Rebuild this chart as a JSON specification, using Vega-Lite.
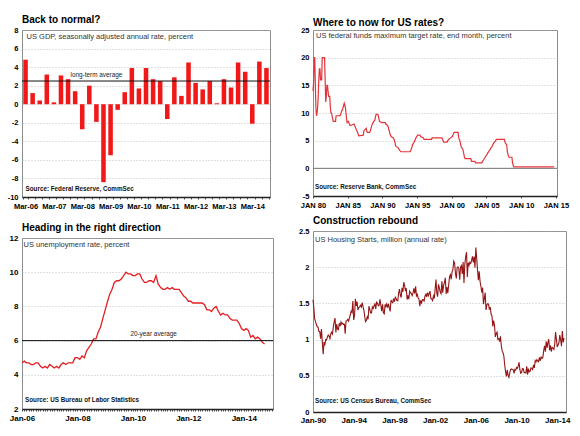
{
  "$schema": "https://vega.github.io/schema/vega-lite/v6.json",
  "background": "white",
  "padding": {"left": 6, "top": 14, "right": 4, "bottom": 4},
  "config": {
    "font": "Liberation Sans",
    "view": {"stroke": "#8c8c8c", "strokeWidth": 1},
    "title": {"anchor": "start", "frame": "group", "fontSize": 10, "fontWeight": "bold", "color": "#000000", "offset": 1},
    "axis": {"labelFont": "Liberation Sans", "labelFontWeight": "bold", "labelColor": "#000000", "labelFontSize": 7.5, "labelOverlap": false, "gridColor": "#b4b4b4", "gridDash": [1, 2], "gridWidth": 0.8, "domainColor": "#222222", "tickColor": "#555555"},
    "axisY": {"domain": false, "ticks": false, "labelPadding": 4, "grid": true},
    "axisX": {"grid": false, "domainWidth": 1.6, "labelPadding": 3, "tickSize": 2, "labelFlush": false}
  },
  "datasets": {
    "gdp": [
      {"q": "Mar-06", "v": 4.8}, {"q": "Jun-06", "v": 1.2}, {"q": "Sep-06", "v": 0.4}, {"q": "Dec-06", "v": 3.2},
      {"q": "Mar-07", "v": 0.2}, {"q": "Jun-07", "v": 3.1}, {"q": "Sep-07", "v": 2.7}, {"q": "Dec-07", "v": 1.4},
      {"q": "Mar-08", "v": -2.7}, {"q": "Jun-08", "v": 2.0}, {"q": "Sep-08", "v": -1.9}, {"q": "Dec-08", "v": -8.4},
      {"q": "Mar-09", "v": -5.5}, {"q": "Jun-09", "v": -0.6}, {"q": "Sep-09", "v": 1.3}, {"q": "Dec-09", "v": 3.9},
      {"q": "Mar-10", "v": 1.7}, {"q": "Jun-10", "v": 3.9}, {"q": "Sep-10", "v": 2.7}, {"q": "Dec-10", "v": 2.5},
      {"q": "Mar-11", "v": -1.6}, {"q": "Jun-11", "v": 2.9}, {"q": "Sep-11", "v": 0.9}, {"q": "Dec-11", "v": 4.5},
      {"q": "Mar-12", "v": 2.3}, {"q": "Jun-12", "v": 1.6}, {"q": "Sep-12", "v": 2.5}, {"q": "Dec-12", "v": 0.1},
      {"q": "Mar-13", "v": 2.7}, {"q": "Jun-13", "v": 1.8}, {"q": "Sep-13", "v": 4.5}, {"q": "Dec-13", "v": 3.5},
      {"q": "Mar-14", "v": -2.1}, {"q": "Jun-14", "v": 4.6}, {"q": "Sep-14", "v": 3.9}
    ],
    "fed": [
      {"d": "1980-01", "v": 14}, {"d": "1980-02", "v": 15.5}, {"d": "1980-03", "v": 20}, {"d": "1980-04", "v": 20},
      {"d": "1980-05", "v": 15.5}, {"d": "1980-06", "v": 11}, {"d": "1980-07", "v": 9.5}, {"d": "1980-08", "v": 10},
      {"d": "1980-09", "v": 11}, {"d": "1980-10", "v": 13}, {"d": "1980-11", "v": 16}, {"d": "1980-12", "v": 18},
      {"d": "1981-01", "v": 18}, {"d": "1981-02", "v": 16}, {"d": "1981-04", "v": 16}, {"d": "1981-05", "v": 20},
      {"d": "1981-09", "v": 20}, {"d": "1981-10", "v": 16}, {"d": "1981-11", "v": 12}, {"d": "1981-12", "v": 13},
      {"d": "1982-01", "v": 15}, {"d": "1982-02", "v": 15}, {"d": "1982-03", "v": 14}, {"d": "1982-04", "v": 13},
      {"d": "1982-06", "v": 13}, {"d": "1982-07", "v": 11}, {"d": "1982-08", "v": 10}, {"d": "1982-09", "v": 10},
      {"d": "1982-10", "v": 9.5}, {"d": "1982-11", "v": 9}, {"d": "1982-12", "v": 8.5}, {"d": "1983-04", "v": 8.5},
      {"d": "1983-05", "v": 9.5}, {"d": "1983-12", "v": 9.5}, {"d": "1984-03", "v": 10.5}, {"d": "1984-04", "v": 10.5},
      {"d": "1984-05", "v": 11}, {"d": "1984-07", "v": 11.75}, {"d": "1984-09", "v": 11}, {"d": "1984-10", "v": 10},
      {"d": "1984-11", "v": 9}, {"d": "1984-12", "v": 8.25}, {"d": "1985-02", "v": 8.5}, {"d": "1985-05", "v": 7.75},
      {"d": "1985-06", "v": 7.75}, {"d": "1985-12", "v": 8}, {"d": "1986-03", "v": 7.25}, {"d": "1986-05", "v": 6.75},
      {"d": "1986-07", "v": 6.25}, {"d": "1986-08", "v": 5.875}, {"d": "1987-04", "v": 6}, {"d": "1987-05", "v": 6.75},
      {"d": "1987-09", "v": 7.25}, {"d": "1987-10", "v": 6.75}, {"d": "1987-11", "v": 6.5}, {"d": "1988-03", "v": 6.5},
      {"d": "1988-05", "v": 7}, {"d": "1988-06", "v": 7.5}, {"d": "1988-08", "v": 8.125}, {"d": "1988-12", "v": 8.75},
      {"d": "1989-02", "v": 9.75}, {"d": "1989-05", "v": 9.75}, {"d": "1989-06", "v": 9.5}, {"d": "1989-07", "v": 9},
      {"d": "1989-08", "v": 8.5}, {"d": "1989-12", "v": 8.25}, {"d": "1990-06", "v": 8.25}, {"d": "1990-07", "v": 8},
      {"d": "1990-10", "v": 7.75}, {"d": "1990-11", "v": 7.5}, {"d": "1990-12", "v": 7}, {"d": "1991-01", "v": 6.75},
      {"d": "1991-02", "v": 6.25}, {"d": "1991-04", "v": 5.75}, {"d": "1991-08", "v": 5.5}, {"d": "1991-09", "v": 5.25},
      {"d": "1991-10", "v": 5}, {"d": "1991-11", "v": 4.5}, {"d": "1991-12", "v": 4}, {"d": "1992-04", "v": 3.75},
      {"d": "1992-07", "v": 3.25}, {"d": "1992-09", "v": 3}, {"d": "1994-01", "v": 3}, {"d": "1994-02", "v": 3.25},
      {"d": "1994-03", "v": 3.5}, {"d": "1994-04", "v": 3.75}, {"d": "1994-05", "v": 4.25}, {"d": "1994-08", "v": 4.75},
      {"d": "1994-11", "v": 5.5}, {"d": "1995-02", "v": 6}, {"d": "1995-06", "v": 6}, {"d": "1995-07", "v": 5.75},
      {"d": "1995-12", "v": 5.5}, {"d": "1996-01", "v": 5.25}, {"d": "1997-02", "v": 5.25}, {"d": "1997-03", "v": 5.5},
      {"d": "1998-08", "v": 5.5}, {"d": "1998-09", "v": 5.25}, {"d": "1998-10", "v": 5}, {"d": "1998-11", "v": 4.75},
      {"d": "1999-05", "v": 4.75}, {"d": "1999-06", "v": 5}, {"d": "1999-08", "v": 5.25}, {"d": "1999-11", "v": 5.5},
      {"d": "2000-02", "v": 5.75}, {"d": "2000-03", "v": 6}, {"d": "2000-05", "v": 6.5}, {"d": "2000-12", "v": 6.5},
      {"d": "2001-01", "v": 5.5}, {"d": "2001-03", "v": 5}, {"d": "2001-04", "v": 4.5}, {"d": "2001-05", "v": 4},
      {"d": "2001-06", "v": 3.75}, {"d": "2001-08", "v": 3.5}, {"d": "2001-09", "v": 3}, {"d": "2001-10", "v": 2.5},
      {"d": "2001-11", "v": 2}, {"d": "2001-12", "v": 1.75}, {"d": "2002-10", "v": 1.75}, {"d": "2002-11", "v": 1.25},
      {"d": "2003-05", "v": 1.25}, {"d": "2003-06", "v": 1}, {"d": "2004-05", "v": 1}, {"d": "2004-06", "v": 1.25},
      {"d": "2004-08", "v": 1.5}, {"d": "2004-09", "v": 1.75}, {"d": "2004-11", "v": 2}, {"d": "2004-12", "v": 2.25},
      {"d": "2005-02", "v": 2.5}, {"d": "2005-03", "v": 2.75}, {"d": "2005-05", "v": 3}, {"d": "2005-06", "v": 3.25},
      {"d": "2005-08", "v": 3.5}, {"d": "2005-09", "v": 3.75}, {"d": "2005-11", "v": 4}, {"d": "2005-12", "v": 4.25},
      {"d": "2006-01", "v": 4.5}, {"d": "2006-03", "v": 4.75}, {"d": "2006-05", "v": 5}, {"d": "2006-06", "v": 5.25},
      {"d": "2007-08", "v": 5.25}, {"d": "2007-09", "v": 4.75}, {"d": "2007-10", "v": 4.5}, {"d": "2007-12", "v": 4.25},
      {"d": "2008-01", "v": 3}, {"d": "2008-03", "v": 2.25}, {"d": "2008-04", "v": 2}, {"d": "2008-09", "v": 2},
      {"d": "2008-10", "v": 1}, {"d": "2008-12", "v": 0.25}, {"d": "2014-10", "v": 0.25}
    ],
    "unemp": [
      {"d": "2006-01", "v": 4.7}, {"d": "2006-02", "v": 4.8}, {"d": "2006-03", "v": 4.7}, {"d": "2006-04", "v": 4.7}, {"d": "2006-05", "v": 4.6}, {"d": "2006-06", "v": 4.6},
      {"d": "2006-07", "v": 4.7}, {"d": "2006-08", "v": 4.7}, {"d": "2006-09", "v": 4.5}, {"d": "2006-10", "v": 4.4}, {"d": "2006-11", "v": 4.5}, {"d": "2006-12", "v": 4.4},
      {"d": "2007-01", "v": 4.6}, {"d": "2007-02", "v": 4.5}, {"d": "2007-03", "v": 4.4}, {"d": "2007-04", "v": 4.5}, {"d": "2007-05", "v": 4.4}, {"d": "2007-06", "v": 4.6},
      {"d": "2007-07", "v": 4.7}, {"d": "2007-08", "v": 4.6}, {"d": "2007-09", "v": 4.7}, {"d": "2007-10", "v": 4.7}, {"d": "2007-11", "v": 4.7}, {"d": "2007-12", "v": 5.0},
      {"d": "2008-01", "v": 5.0}, {"d": "2008-02", "v": 4.9}, {"d": "2008-03", "v": 5.1}, {"d": "2008-04", "v": 5.0}, {"d": "2008-05", "v": 5.4}, {"d": "2008-06", "v": 5.6},
      {"d": "2008-07", "v": 5.8}, {"d": "2008-08", "v": 6.1}, {"d": "2008-09", "v": 6.1}, {"d": "2008-10", "v": 6.5}, {"d": "2008-11", "v": 6.8}, {"d": "2008-12", "v": 7.3},
      {"d": "2009-01", "v": 7.8}, {"d": "2009-02", "v": 8.3}, {"d": "2009-03", "v": 8.7}, {"d": "2009-04", "v": 9.0}, {"d": "2009-05", "v": 9.4}, {"d": "2009-06", "v": 9.5},
      {"d": "2009-07", "v": 9.5}, {"d": "2009-08", "v": 9.6}, {"d": "2009-09", "v": 9.8}, {"d": "2009-10", "v": 10.0}, {"d": "2009-11", "v": 9.9}, {"d": "2009-12", "v": 9.9},
      {"d": "2010-01", "v": 9.8}, {"d": "2010-02", "v": 9.8}, {"d": "2010-03", "v": 9.9}, {"d": "2010-04", "v": 9.9}, {"d": "2010-05", "v": 9.6}, {"d": "2010-06", "v": 9.4},
      {"d": "2010-07", "v": 9.4}, {"d": "2010-08", "v": 9.5}, {"d": "2010-09", "v": 9.5}, {"d": "2010-10", "v": 9.4}, {"d": "2010-11", "v": 9.8}, {"d": "2010-12", "v": 9.3},
      {"d": "2011-01", "v": 9.1}, {"d": "2011-02", "v": 9.0}, {"d": "2011-03", "v": 9.0}, {"d": "2011-04", "v": 9.1}, {"d": "2011-05", "v": 9.0}, {"d": "2011-06", "v": 9.1},
      {"d": "2011-07", "v": 9.0}, {"d": "2011-08", "v": 9.0}, {"d": "2011-09", "v": 9.0}, {"d": "2011-10", "v": 8.8}, {"d": "2011-11", "v": 8.6}, {"d": "2011-12", "v": 8.5},
      {"d": "2012-01", "v": 8.3}, {"d": "2012-02", "v": 8.3}, {"d": "2012-03", "v": 8.2}, {"d": "2012-04", "v": 8.2}, {"d": "2012-05", "v": 8.2}, {"d": "2012-06", "v": 8.2},
      {"d": "2012-07", "v": 8.2}, {"d": "2012-08", "v": 8.1}, {"d": "2012-09", "v": 7.8}, {"d": "2012-10", "v": 7.8}, {"d": "2012-11", "v": 7.7}, {"d": "2012-12", "v": 7.9},
      {"d": "2013-01", "v": 8.0}, {"d": "2013-02", "v": 7.7}, {"d": "2013-03", "v": 7.5}, {"d": "2013-04", "v": 7.6}, {"d": "2013-05", "v": 7.5}, {"d": "2013-06", "v": 7.5},
      {"d": "2013-07", "v": 7.3}, {"d": "2013-08", "v": 7.2}, {"d": "2013-09", "v": 7.2}, {"d": "2013-10", "v": 7.2}, {"d": "2013-11", "v": 7.0}, {"d": "2013-12", "v": 6.7},
      {"d": "2014-01", "v": 6.6}, {"d": "2014-02", "v": 6.7}, {"d": "2014-03", "v": 6.6}, {"d": "2014-04", "v": 6.2}, {"d": "2014-05", "v": 6.3}, {"d": "2014-06", "v": 6.1},
      {"d": "2014-07", "v": 6.2}, {"d": "2014-08", "v": 6.1}, {"d": "2014-09", "v": 5.9}, {"d": "2014-10", "v": 5.8}
    ],
    "starts": [
      {"d": "1990-01", "v": 1.551}, {"d": "1990-02", "v": 1.437}, {"d": "1990-03", "v": 1.289}, {"d": "1990-04", "v": 1.248}, {"d": "1990-05", "v": 1.212}, {"d": "1990-06", "v": 1.177},
      {"d": "1990-07", "v": 1.171}, {"d": "1990-08", "v": 1.115}, {"d": "1990-09", "v": 1.110}, {"d": "1990-10", "v": 1.014}, {"d": "1990-11", "v": 1.145}, {"d": "1990-12", "v": 0.969},
      {"d": "1991-01", "v": 0.798}, {"d": "1991-02", "v": 0.965}, {"d": "1991-03", "v": 0.921}, {"d": "1991-04", "v": 1.001}, {"d": "1991-05", "v": 0.996}, {"d": "1991-06", "v": 1.036},
      {"d": "1991-07", "v": 1.063}, {"d": "1991-08", "v": 1.049}, {"d": "1991-09", "v": 1.015}, {"d": "1991-10", "v": 1.079}, {"d": "1991-11", "v": 1.103}, {"d": "1991-12", "v": 1.079},
      {"d": "1992-01", "v": 1.176}, {"d": "1992-02", "v": 1.250}, {"d": "1992-03", "v": 1.297}, {"d": "1992-04", "v": 1.099}, {"d": "1992-05", "v": 1.214}, {"d": "1992-06", "v": 1.145},
      {"d": "1992-07", "v": 1.139}, {"d": "1992-08", "v": 1.226}, {"d": "1992-09", "v": 1.186}, {"d": "1992-10", "v": 1.244}, {"d": "1992-11", "v": 1.214}, {"d": "1992-12", "v": 1.227},
      {"d": "1993-01", "v": 1.210}, {"d": "1993-02", "v": 1.210}, {"d": "1993-03", "v": 1.083}, {"d": "1993-04", "v": 1.258}, {"d": "1993-05", "v": 1.260}, {"d": "1993-06", "v": 1.280},
      {"d": "1993-07", "v": 1.254}, {"d": "1993-08", "v": 1.300}, {"d": "1993-09", "v": 1.343}, {"d": "1993-10", "v": 1.392}, {"d": "1993-11", "v": 1.376}, {"d": "1993-12", "v": 1.533},
      {"d": "1994-01", "v": 1.272}, {"d": "1994-02", "v": 1.337}, {"d": "1994-03", "v": 1.564}, {"d": "1994-04", "v": 1.465}, {"d": "1994-05", "v": 1.526}, {"d": "1994-06", "v": 1.409},
      {"d": "1994-07", "v": 1.439}, {"d": "1994-08", "v": 1.450}, {"d": "1994-09", "v": 1.474}, {"d": "1994-10", "v": 1.450}, {"d": "1994-11", "v": 1.511}, {"d": "1994-12", "v": 1.455},
      {"d": "1995-01", "v": 1.407}, {"d": "1995-02", "v": 1.316}, {"d": "1995-03", "v": 1.249}, {"d": "1995-04", "v": 1.267}, {"d": "1995-05", "v": 1.314}, {"d": "1995-06", "v": 1.281},
      {"d": "1995-07", "v": 1.461}, {"d": "1995-08", "v": 1.416}, {"d": "1995-09", "v": 1.369}, {"d": "1995-10", "v": 1.369}, {"d": "1995-11", "v": 1.452}, {"d": "1995-12", "v": 1.431},
      {"d": "1996-01", "v": 1.467}, {"d": "1996-02", "v": 1.491}, {"d": "1996-03", "v": 1.424}, {"d": "1996-04", "v": 1.516}, {"d": "1996-05", "v": 1.504}, {"d": "1996-06", "v": 1.467},
      {"d": "1996-07", "v": 1.472}, {"d": "1996-08", "v": 1.557}, {"d": "1996-09", "v": 1.475}, {"d": "1996-10", "v": 1.392}, {"d": "1996-11", "v": 1.489}, {"d": "1996-12", "v": 1.370},
      {"d": "1997-01", "v": 1.355}, {"d": "1997-02", "v": 1.486}, {"d": "1997-03", "v": 1.457}, {"d": "1997-04", "v": 1.492}, {"d": "1997-05", "v": 1.442}, {"d": "1997-06", "v": 1.494},
      {"d": "1997-07", "v": 1.437}, {"d": "1997-08", "v": 1.390}, {"d": "1997-09", "v": 1.546}, {"d": "1997-10", "v": 1.520}, {"d": "1997-11", "v": 1.510}, {"d": "1997-12", "v": 1.566},
      {"d": "1998-01", "v": 1.525}, {"d": "1998-02", "v": 1.584}, {"d": "1998-03", "v": 1.567}, {"d": "1998-04", "v": 1.540}, {"d": "1998-05", "v": 1.536}, {"d": "1998-06", "v": 1.641},
      {"d": "1998-07", "v": 1.698}, {"d": "1998-08", "v": 1.614}, {"d": "1998-09", "v": 1.582}, {"d": "1998-10", "v": 1.715}, {"d": "1998-11", "v": 1.660}, {"d": "1998-12", "v": 1.792},
      {"d": "1999-01", "v": 1.748}, {"d": "1999-02", "v": 1.670}, {"d": "1999-03", "v": 1.710}, {"d": "1999-04", "v": 1.553}, {"d": "1999-05", "v": 1.611}, {"d": "1999-06", "v": 1.559},
      {"d": "1999-07", "v": 1.669}, {"d": "1999-08", "v": 1.648}, {"d": "1999-09", "v": 1.635}, {"d": "1999-10", "v": 1.608}, {"d": "1999-11", "v": 1.648}, {"d": "1999-12", "v": 1.708},
      {"d": "2000-01", "v": 1.636}, {"d": "2000-02", "v": 1.737}, {"d": "2000-03", "v": 1.604}, {"d": "2000-04", "v": 1.626}, {"d": "2000-05", "v": 1.575}, {"d": "2000-06", "v": 1.559},
      {"d": "2000-07", "v": 1.463}, {"d": "2000-08", "v": 1.541}, {"d": "2000-09", "v": 1.507}, {"d": "2000-10", "v": 1.549}, {"d": "2000-11", "v": 1.551}, {"d": "2000-12", "v": 1.532},
      {"d": "2001-01", "v": 1.600}, {"d": "2001-02", "v": 1.625}, {"d": "2001-03", "v": 1.590}, {"d": "2001-04", "v": 1.649}, {"d": "2001-05", "v": 1.605}, {"d": "2001-06", "v": 1.636},
      {"d": "2001-07", "v": 1.670}, {"d": "2001-08", "v": 1.567}, {"d": "2001-09", "v": 1.562}, {"d": "2001-10", "v": 1.540}, {"d": "2001-11", "v": 1.602}, {"d": "2001-12", "v": 1.568},
      {"d": "2002-01", "v": 1.698}, {"d": "2002-02", "v": 1.829}, {"d": "2002-03", "v": 1.642}, {"d": "2002-04", "v": 1.592}, {"d": "2002-05", "v": 1.764}, {"d": "2002-06", "v": 1.717},
      {"d": "2002-07", "v": 1.655}, {"d": "2002-08", "v": 1.633}, {"d": "2002-09", "v": 1.804}, {"d": "2002-10", "v": 1.648}, {"d": "2002-11", "v": 1.753}, {"d": "2002-12", "v": 1.788},
      {"d": "2003-01", "v": 1.853}, {"d": "2003-02", "v": 1.629}, {"d": "2003-03", "v": 1.726}, {"d": "2003-04", "v": 1.643}, {"d": "2003-05", "v": 1.751}, {"d": "2003-06", "v": 1.867},
      {"d": "2003-07", "v": 1.897}, {"d": "2003-08", "v": 1.833}, {"d": "2003-09", "v": 1.939}, {"d": "2003-10", "v": 1.967}, {"d": "2003-11", "v": 2.083}, {"d": "2003-12", "v": 2.057},
      {"d": "2004-01", "v": 1.911}, {"d": "2004-02", "v": 1.846}, {"d": "2004-03", "v": 1.998}, {"d": "2004-04", "v": 2.003}, {"d": "2004-05", "v": 1.981}, {"d": "2004-06", "v": 1.828},
      {"d": "2004-07", "v": 2.002}, {"d": "2004-08", "v": 2.024}, {"d": "2004-09", "v": 1.905}, {"d": "2004-10", "v": 2.072}, {"d": "2004-11", "v": 1.782}, {"d": "2004-12", "v": 2.042},
      {"d": "2005-01", "v": 2.144}, {"d": "2005-02", "v": 2.207}, {"d": "2005-03", "v": 1.864}, {"d": "2005-04", "v": 2.061}, {"d": "2005-05", "v": 2.025}, {"d": "2005-06", "v": 2.068},
      {"d": "2005-07", "v": 2.054}, {"d": "2005-08", "v": 2.095}, {"d": "2005-09", "v": 2.151}, {"d": "2005-10", "v": 2.065}, {"d": "2005-11", "v": 2.147}, {"d": "2005-12", "v": 1.994},
      {"d": "2006-01", "v": 2.273}, {"d": "2006-02", "v": 2.119}, {"d": "2006-03", "v": 1.969}, {"d": "2006-04", "v": 1.821}, {"d": "2006-05", "v": 1.942}, {"d": "2006-06", "v": 1.802},
      {"d": "2006-07", "v": 1.737}, {"d": "2006-08", "v": 1.650}, {"d": "2006-09", "v": 1.720}, {"d": "2006-10", "v": 1.491}, {"d": "2006-11", "v": 1.570}, {"d": "2006-12", "v": 1.649},
      {"d": "2007-01", "v": 1.409}, {"d": "2007-02", "v": 1.480}, {"d": "2007-03", "v": 1.495}, {"d": "2007-04", "v": 1.490}, {"d": "2007-05", "v": 1.415}, {"d": "2007-06", "v": 1.448},
      {"d": "2007-07", "v": 1.354}, {"d": "2007-08", "v": 1.330}, {"d": "2007-09", "v": 1.183}, {"d": "2007-10", "v": 1.264}, {"d": "2007-11", "v": 1.197}, {"d": "2007-12", "v": 1.037},
      {"d": "2008-01", "v": 1.084}, {"d": "2008-02", "v": 1.103}, {"d": "2008-03", "v": 1.005}, {"d": "2008-04", "v": 1.013}, {"d": "2008-05", "v": 0.973}, {"d": "2008-06", "v": 1.046},
      {"d": "2008-07", "v": 0.923}, {"d": "2008-08", "v": 0.844}, {"d": "2008-09", "v": 0.820}, {"d": "2008-10", "v": 0.777}, {"d": "2008-11", "v": 0.652}, {"d": "2008-12", "v": 0.560},
      {"d": "2009-01", "v": 0.490}, {"d": "2009-02", "v": 0.582}, {"d": "2009-03", "v": 0.505}, {"d": "2009-04", "v": 0.478}, {"d": "2009-05", "v": 0.540}, {"d": "2009-06", "v": 0.585},
      {"d": "2009-07", "v": 0.594}, {"d": "2009-08", "v": 0.586}, {"d": "2009-09", "v": 0.585}, {"d": "2009-10", "v": 0.534}, {"d": "2009-11", "v": 0.588}, {"d": "2009-12", "v": 0.581},
      {"d": "2010-01", "v": 0.614}, {"d": "2010-02", "v": 0.604}, {"d": "2010-03", "v": 0.636}, {"d": "2010-04", "v": 0.687}, {"d": "2010-05", "v": 0.583}, {"d": "2010-06", "v": 0.536},
      {"d": "2010-07", "v": 0.546}, {"d": "2010-08", "v": 0.599}, {"d": "2010-09", "v": 0.594}, {"d": "2010-10", "v": 0.543}, {"d": "2010-11", "v": 0.545}, {"d": "2010-12", "v": 0.539},
      {"d": "2011-01", "v": 0.630}, {"d": "2011-02", "v": 0.517}, {"d": "2011-03", "v": 0.600}, {"d": "2011-04", "v": 0.554}, {"d": "2011-05", "v": 0.561}, {"d": "2011-06", "v": 0.608},
      {"d": "2011-07", "v": 0.604}, {"d": "2011-08", "v": 0.586}, {"d": "2011-09", "v": 0.650}, {"d": "2011-10", "v": 0.610}, {"d": "2011-11", "v": 0.711}, {"d": "2011-12", "v": 0.694},
      {"d": "2012-01", "v": 0.723}, {"d": "2012-02", "v": 0.704}, {"d": "2012-03", "v": 0.695}, {"d": "2012-04", "v": 0.753}, {"d": "2012-05", "v": 0.708}, {"d": "2012-06", "v": 0.757},
      {"d": "2012-07", "v": 0.740}, {"d": "2012-08", "v": 0.754}, {"d": "2012-09", "v": 0.847}, {"d": "2012-10", "v": 0.915}, {"d": "2012-11", "v": 0.833}, {"d": "2012-12", "v": 0.976},
      {"d": "2013-01", "v": 0.888}, {"d": "2013-02", "v": 0.962}, {"d": "2013-03", "v": 1.005}, {"d": "2013-04", "v": 0.852}, {"d": "2013-05", "v": 0.919}, {"d": "2013-06", "v": 0.835},
      {"d": "2013-07", "v": 0.891}, {"d": "2013-08", "v": 0.883}, {"d": "2013-09", "v": 0.863}, {"d": "2013-10", "v": 0.936}, {"d": "2013-11", "v": 1.105}, {"d": "2013-12", "v": 1.003},
      {"d": "2014-01", "v": 0.897}, {"d": "2014-02", "v": 0.928}, {"d": "2014-03", "v": 0.953}, {"d": "2014-04", "v": 1.063}, {"d": "2014-05", "v": 1.001}, {"d": "2014-06", "v": 0.909},
      {"d": "2014-07", "v": 1.117}, {"d": "2014-08", "v": 0.961}, {"d": "2014-09", "v": 1.020}
    ]
  },
  "spacing": 24,
  "hconcat": [
    {
      "spacing": 12,
      "vconcat": [
        {
          "title": "Back to normal?",
          "width": 248,
          "height": 167,
          "layer": [
            {
              "data": {"name": "gdp"},
              "mark": {"type": "bar", "color": "#f01818"},
              "encoding": {
                "x": {"field": "q", "type": "ordinal", "sort": null, "title": null,
                  "scale": {"paddingInner": 0.36, "paddingOuter": 0.18},
                  "axis": {"labelAngle": 0, "labelOverlap": false, "tickBand": "extent", "labelExpr": "indexof('' + datum.label, 'Mar') == 0 ? datum.label : ''"}},
                "y": {"field": "v", "type": "quantitative", "title": null,
                  "scale": {"domain": [-10, 8], "nice": false, "zero": false},
                  "axis": {"tickCount": 50, "labelOverlap": false, "values": [-10, -8, -6, -4, -2, 0, 2, 4, 6, 8], "labelExpr": "'' + datum.value"}}
              }
            },
            {
              "data": {"values": [{}]},
              "mark": {"type": "rule", "color": "#111111", "strokeWidth": 1},
              "encoding": {"y": {"datum": 2.5}}
            },
            {
              "data": {"values": [{}]},
              "mark": {"type": "text", "text": "long-term average", "fontSize": 6.4, "color": "#222222", "align": "center", "baseline": "bottom", "dy": -3},
              "encoding": {"x": {"datum": "Sep-08"}, "y": {"datum": 2.5}}
            },
            {
              "data": {"values": [{}]},
              "mark": {"type": "text", "text": "US GDP, seasonally adjusted annual rate, percent", "fontSize": 7.5, "color": "#333333", "align": "left", "baseline": "top", "dx": 1, "dy": 2.5},
              "encoding": {"x": {"datum": "Mar-06"}, "y": {"datum": 8}}
            },
            {
              "data": {"values": [{}]},
              "mark": {"type": "text", "text": "Source: Federal Reserve, CommSec", "fontSize": 6.3, "fontWeight": "bold", "color": "#111111", "align": "left", "baseline": "bottom", "dx": 0, "dy": -5.5},
              "encoding": {"x": {"datum": "Mar-06"}, "y": {"datum": -10}}
            }
          ]
        },
        {
          "title": "Heading in the right direction",
          "width": 251,
          "height": 171,
          "layer": [
            {
              "data": {"name": "unemp"},
              "mark": {"type": "line", "color": "#e41e22", "strokeWidth": 1.3},
              "encoding": {
                "x": {"field": "d", "type": "temporal", "title": null,
                  "scale": {"domain": [{"year": 2006, "month": 1, "date": 1}, {"year": 2015, "month": 1, "date": 20}]},
                  "axis": {"labelOverlap": false, "tickCount": {"interval": "month", "step": 1}, "labelFontSize": 8, "labelExpr": "month(datum.value) == 0 && year(datum.value) % 2 == 0 ? timeFormat(datum.value, '%b-%y') : ''"}},
                "y": {"field": "v", "type": "quantitative", "title": null,
                  "scale": {"domain": [2, 12], "nice": false, "zero": false},
                  "axis": {"tickCount": 50, "labelOverlap": false, "values": [2, 4, 6, 8, 10, 12], "labelFontSize": 8, "labelExpr": "'' + datum.value"}}
              }
            },
            {
              "data": {"values": [{}]},
              "mark": {"type": "rule", "color": "#111111", "strokeWidth": 1},
              "encoding": {"y": {"datum": 6}}
            },
            {
              "data": {"values": [{}]},
              "mark": {"type": "text", "text": "20-year average", "fontSize": 6.4, "color": "#222222", "align": "center", "baseline": "bottom", "dy": -4},
              "encoding": {"x": {"datum": {"year": 2010, "month": 10, "date": 1}}, "y": {"datum": 6}}
            },
            {
              "data": {"values": [{}]},
              "mark": {"type": "text", "text": "US unemployment rate, percent", "fontSize": 7.5, "color": "#333333", "align": "left", "baseline": "top", "dx": 1.5, "dy": 2.5},
              "encoding": {"x": {"datum": {"year": 2006, "month": 1, "date": 1}}, "y": {"datum": 12}}
            },
            {
              "data": {"values": [{}]},
              "mark": {"type": "text", "text": "Source: US Bureau of Labor Statistics", "fontSize": 6.3, "fontWeight": "bold", "color": "#111111", "align": "left", "baseline": "bottom", "dx": 3, "dy": -6},
              "encoding": {"x": {"datum": {"year": 2006, "month": 1, "date": 1}}, "y": {"datum": 2}}
            }
          ]
        }
      ]
    },
    {
      "spacing": 6,
      "vconcat": [
        {
          "title": {"text": "Where to now for US rates?", "offset": -2},
          "width": 244,
          "height": 166,
          "layer": [
            {
              "data": {"values": [{}]},
              "mark": {"type": "rule", "color": "#777777", "strokeWidth": 1},
              "encoding": {"y": {"datum": 0}}
            },
            {
              "data": {"name": "fed"},
              "mark": {"type": "line", "color": "#e3343a", "strokeWidth": 1.2},
              "encoding": {
                "x": {"field": "d", "type": "temporal", "title": null,
                  "scale": {"domain": [{"year": 1980, "month": 1, "date": 1}, {"year": 2015, "month": 3, "date": 1}]},
                  "axis": {"tickCount": 50, "labelOverlap": false, "values": [{"year": 1980, "month": 1, "date": 1}, {"year": 1985, "month": 1, "date": 1}, {"year": 1990, "month": 1, "date": 1}, {"year": 1995, "month": 1, "date": 1}, {"year": 2000, "month": 1, "date": 1}, {"year": 2005, "month": 1, "date": 1}, {"year": 2010, "month": 1, "date": 1}, {"year": 2015, "month": 1, "date": 1}],
                    "labelExpr": "upper(timeFormat(datum.value, '%b %y'))"}},
                "y": {"field": "v", "type": "quantitative", "title": null,
                  "scale": {"domain": [-5, 25], "nice": false, "zero": false},
                  "axis": {"tickCount": 50, "labelOverlap": false, "values": [-5, 0, 5, 10, 15, 20, 25], "labelExpr": "'' + datum.value"}}
              }
            },
            {
              "data": {"values": [{}]},
              "mark": {"type": "text", "text": "US federal funds maximum target rate, end month, percent", "fontSize": 7.5, "color": "#333333", "align": "left", "baseline": "top", "dx": 3, "dy": 1.5},
              "encoding": {"x": {"datum": {"year": 1980, "month": 1, "date": 1}}, "y": {"datum": 25}}
            },
            {
              "data": {"values": [{}]},
              "mark": {"type": "text", "text": "Source: Reserve Bank, CommSec", "fontSize": 6.3, "fontWeight": "bold", "color": "#111111", "align": "left", "baseline": "bottom", "dx": 2, "dy": -6.5},
              "encoding": {"x": {"datum": {"year": 1980, "month": 1, "date": 1}}, "y": {"datum": -5}}
            }
          ]
        },
        {
          "title": "Construction rebound",
          "width": 253,
          "height": 181,
          "layer": [
            {
              "data": {"name": "starts"},
              "mark": {"type": "line", "color": "#931515", "strokeWidth": 1.1},
              "encoding": {
                "x": {"field": "d", "type": "temporal", "title": null,
                  "scale": {"domain": [{"year": 1990, "month": 1, "date": 1}, {"year": 2014, "month": 11, "date": 10}]},
                  "axis": {"tickCount": 50, "labelOverlap": false, "ticks": false, "values": [{"year": 1990, "month": 1, "date": 1}, {"year": 1994, "month": 1, "date": 1}, {"year": 1998, "month": 1, "date": 1}, {"year": 2002, "month": 1, "date": 1}, {"year": 2006, "month": 1, "date": 1}, {"year": 2010, "month": 1, "date": 1}, {"year": 2014, "month": 1, "date": 1}],
                    "labelFontSize": 8, "labelPadding": 4, "labelExpr": "timeFormat(datum.value, '%b-%y')"}},
                "y": {"field": "v", "type": "quantitative", "title": null,
                  "scale": {"domain": [0, 2.5], "nice": false},
                  "axis": {"tickCount": 50, "labelOverlap": false, "values": [0, 0.5, 1, 1.5, 2, 2.5], "labelExpr": "'' + datum.value"}}
              }
            },
            {
              "data": {"values": [{}]},
              "mark": {"type": "text", "text": "US Housing Starts, million (annual rate)", "fontSize": 7.5, "color": "#333333", "align": "left", "baseline": "top", "dx": 2, "dy": 4.5},
              "encoding": {"x": {"datum": {"year": 1990, "month": 1, "date": 1}}, "y": {"datum": 2.5}}
            },
            {
              "data": {"values": [{}]},
              "mark": {"type": "text", "text": "Source: US Census Bureau, CommSec", "fontSize": 6.3, "fontWeight": "bold", "color": "#111111", "align": "left", "baseline": "bottom", "dx": 2, "dy": -8},
              "encoding": {"x": {"datum": {"year": 1990, "month": 1, "date": 1}}, "y": {"datum": 0}}
            }
          ]
        }
      ]
    }
  ]
}
